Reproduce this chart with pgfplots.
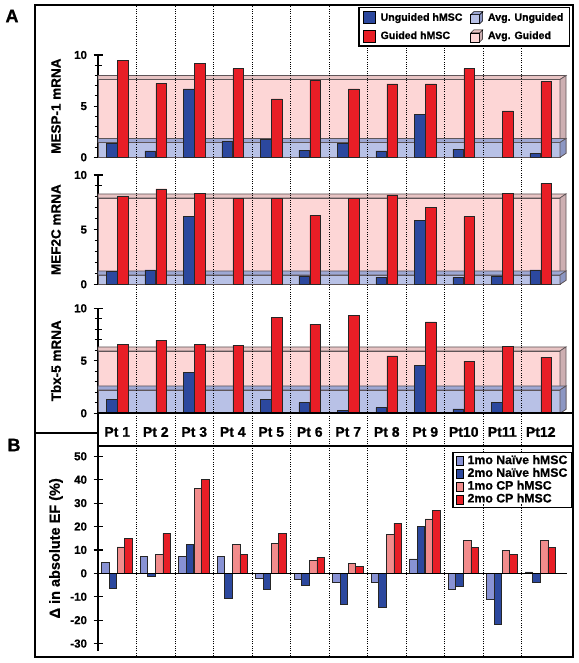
\documentclass[border=0pt]{standalone}
\usepackage{pgfplots}
\pgfplotsset{compat=1.18}
\usepackage{fontspec}
\setmainfont{Liberation Sans}[BoldFeatures={FakeBold=0.8}]
\definecolor{ublue}{RGB}{44,72,158}
\definecolor{gred}{RGB}{232,30,38}
\definecolor{bpink}{RGB}{253,214,214}
\definecolor{bpinktop}{RGB}{232,196,196}
\definecolor{bpinkside}{RGB}{205,175,178}
\definecolor{bblue}{RGB}{184,193,230}
\definecolor{bbluetop}{RGB}{158,168,212}
\definecolor{bblueside}{RGB}{140,150,195}
\definecolor{bedge}{RGB}{95,85,88}
\definecolor{lblue}{RGB}{136,146,212}
\definecolor{lred}{RGB}{242,140,140}
\newcommand{\fs}[1]{\fontsize{#1}{#1}\selectfont}
\pgfplotsset{
  panel/.style={
    scale only axis, width=462pt, xmin=-0.5, xmax=11.5,
    anchor=south west, clip=false,
    axis x line=none, axis y line*=left,
    y axis line style={-, line width=1.3pt, black},
    tick align=center,
    major tick length=9pt, minor tick length=7pt,
    major tick style={line width=1.2pt, black},
    minor tick style={line width=1.1pt, black},
    /pgf/number format/assume math mode=true,
    yticklabel style={font=\bfseries\fs{11.5}, xshift=-3pt},
    ylabel style={font=\bfseries\fs{13.5}, at={(axis description cs:-0.0909,0.5)}, anchor=center},
  },
  mybar/.style={forget plot, ybar, bar width=#1, draw=black!85, line width=0.5pt},
  band/.style={forget plot, draw=bedge, line width=0.7pt},
  sqleg/.style={legend image code/.code={\draw[fill=#1, draw=black, line width=0.5pt] (0pt,-6pt) rectangle (12pt,6pt);}},
  sqlegB/.style={legend image code/.code={\draw[fill=#1, draw=black, line width=0.5pt] (0pt,-4.5pt) rectangle (7pt,4.5pt);}},
}
\begin{document}
\begin{tikzpicture}[x=1pt,y=1pt]
\useasboundingbox (0,0) rectangle (578,663);

% ---------------- MESP-1 ----------------
\begin{axis}[panel, at={(98pt,505.7pt)}, height=102.3pt, ymin=0, ymax=10,
  ytick={0,5,10}, minor ytick={1,2,3,4,6,7,8,9}, ylabel={MESP-1 mRNA},
  legend columns=2, legend cell align=left,
  legend style={at={(axis description cs:1.0216,1.4692)}, anchor=north east,
    draw=black, line width=1.3pt, fill=white, font=\bfseries\fs{10.6},
    nodes={font=\bfseries\fs{10.6}, inner sep=2pt},
    /tikz/every odd column/.append style={column sep=3pt},
    /tikz/every even column/.append style={column sep=6pt}, row sep=5pt,
    inner xsep=4pt, inner ysep=3.5pt}]
\addplot[band, fill=bpink] coordinates {(-0.5,0) (11.5,0) (11.5,7.6) (-0.5,7.6)} -- cycle;
\addplot[band, fill=bpinktop] coordinates {(-0.5,7.6) (11.5,7.6) (11.656,7.99) (-0.5,7.99)} -- cycle;
\addplot[band, fill=bpinkside] coordinates {(11.5,0) (11.656,0.39) (11.656,7.99) (11.5,7.6)} -- cycle;
\addplot[band, fill=bblue] coordinates {(-0.5,0) (11.5,0) (11.5,1.45) (-0.5,1.45)} -- cycle;
\addplot[band, fill=bbluetop] coordinates {(-0.5,1.45) (11.5,1.45) (11.656,1.84) (-0.5,1.84)} -- cycle;
\addplot[band, fill=bblueside] coordinates {(11.5,0) (11.656,0.39) (11.656,1.84) (11.5,1.45)} -- cycle;
\addplot[mybar=10.6pt, bar shift=-5.5pt, fill=ublue] coordinates {
 (0,1.37) (1,0.62) (2,6.68) (3,1.53) (4,1.76) (5,0.71) (6,1.33) (7,0.62) (8,4.23) (9,0.81) (11,0.39)};
\addplot[mybar=10.6pt, bar shift=5.5pt, fill=gred] coordinates {
 (0,9.44) (1,7.23) (2,9.19) (3,8.66) (4,5.70) (5,7.56) (6,6.68) (7,7.17) (8,7.17) (9,8.66) (10,4.53) (11,7.39)};
\addlegendimage{sqleg=ublue}
\addlegendentry{Unguided hMSC}
\addlegendimage{legend image code/.code={
  \draw[fill=bblue, draw=black, line width=0.5pt] (0pt,-6pt) rectangle (9pt,3pt);
  \draw[fill=bbluetop, draw=black, line width=0.5pt] (0pt,3pt) -- (3pt,6pt) -- (12pt,6pt) -- (9pt,3pt) -- cycle;
  \draw[fill=bblueside, draw=black, line width=0.5pt] (9pt,-6pt) -- (12pt,-3pt) -- (12pt,6pt) -- (9pt,3pt) -- cycle;}}
\addlegendentry{Avg. Unguided}
\addlegendimage{sqleg=gred}
\addlegendentry{Guided hMSC}
\addlegendimage{legend image code/.code={
  \draw[fill=bpink, draw=black, line width=0.5pt] (0pt,-6pt) rectangle (9pt,3pt);
  \draw[fill=bpinktop, draw=black, line width=0.5pt] (0pt,3pt) -- (3pt,6pt) -- (12pt,6pt) -- (9pt,3pt) -- cycle;
  \draw[fill=bpinkside, draw=black, line width=0.5pt] (9pt,-6pt) -- (12pt,-3pt) -- (12pt,6pt) -- (9pt,3pt) -- cycle;}}
\addlegendentry{Avg. Guided}
\end{axis}

% ---------------- MEF2C ----------------
\begin{axis}[panel, at={(98pt,378.7pt)}, height=109.3pt, ymin=0, ymax=10,
  ytick={0,5,10}, minor ytick={1,2,3,4,6,7,8,9}, ylabel={MEF2C mRNA}]
\addplot[band, fill=bpink] coordinates {(-0.5,0) (11.5,0) (11.5,7.9) (-0.5,7.9)} -- cycle;
\addplot[band, fill=bpinktop] coordinates {(-0.5,7.9) (11.5,7.9) (11.656,8.27) (-0.5,8.27)} -- cycle;
\addplot[band, fill=bpinkside] coordinates {(11.5,0) (11.656,0.37) (11.656,8.27) (11.5,7.9)} -- cycle;
\addplot[band, fill=bblue] coordinates {(-0.5,0) (11.5,0) (11.5,0.85) (-0.5,0.85)} -- cycle;
\addplot[band, fill=bbluetop] coordinates {(-0.5,0.85) (11.5,0.85) (11.656,1.22) (-0.5,1.22)} -- cycle;
\addplot[band, fill=bblueside] coordinates {(11.5,0) (11.656,0.37) (11.656,1.22) (11.5,0.85)} -- cycle;
\addplot[mybar=10.6pt, bar shift=-5.5pt, fill=ublue] coordinates {
 (0,1.15) (1,1.31) (2,6.18) (5,0.76) (7,0.64) (8,5.82) (9,0.64) (10,0.76) (11,1.31)};
\addplot[mybar=10.6pt, bar shift=5.5pt, fill=gred] coordinates {
 (0,8.01) (1,8.72) (2,8.33) (3,7.87) (4,7.87) (5,6.31) (6,7.87) (7,8.17) (8,7.04) (9,6.18) (10,8.33) (11,9.24)};
\end{axis}

% ---------------- Tbx-5 ----------------
\begin{axis}[panel, at={(98pt,249.7pt)}, height=105pt, ymin=0, ymax=10,
  ytick={0,5,10}, minor ytick={1,2,3,4,6,7,8,9}, ylabel={Tbx-5 mRNA}]
\addplot[band, fill=bpink] coordinates {(-0.5,0) (11.5,0) (11.5,5.94) (-0.5,5.94)} -- cycle;
\addplot[band, fill=bpinktop] coordinates {(-0.5,5.94) (11.5,5.94) (11.656,6.32) (-0.5,6.32)} -- cycle;
\addplot[band, fill=bpinkside] coordinates {(11.5,0) (11.656,0.38) (11.656,6.32) (11.5,5.94)} -- cycle;
\addplot[band, fill=bblue] coordinates {(-0.5,0) (11.5,0) (11.5,2.22) (-0.5,2.22)} -- cycle;
\addplot[band, fill=bbluetop] coordinates {(-0.5,2.22) (11.5,2.22) (11.656,2.6) (-0.5,2.6)} -- cycle;
\addplot[band, fill=bblueside] coordinates {(11.5,0) (11.656,0.38) (11.656,2.6) (11.5,2.22)} -- cycle;
\addplot[mybar=10.6pt, bar shift=-5.5pt, fill=ublue] coordinates {
 (0,1.36) (1,0.08) (2,3.87) (3,0.08) (4,1.33) (5,1.01) (6,0.31) (7,0.53) (8,4.57) (9,0.41) (10,1.01)};
\addplot[mybar=10.6pt, bar shift=5.5pt, fill=gred] coordinates {
 (0,6.57) (1,6.98) (2,6.57) (3,6.48) (4,9.10) (5,8.50) (6,9.36) (7,5.46) (8,8.70) (9,4.98) (10,6.38) (11,5.36)};
\node[font=\bfseries\fs{14}] at (axis cs:0,-1.78) {Pt 1};
\node[font=\bfseries\fs{14}] at (axis cs:1,-1.78) {Pt 2};
\node[font=\bfseries\fs{14}] at (axis cs:2,-1.78) {Pt 3};
\node[font=\bfseries\fs{14}] at (axis cs:3,-1.78) {Pt 4};
\node[font=\bfseries\fs{14}] at (axis cs:4,-1.78) {Pt 5};
\node[font=\bfseries\fs{14}] at (axis cs:5,-1.78) {Pt 6};
\node[font=\bfseries\fs{14}] at (axis cs:6,-1.78) {Pt 7};
\node[font=\bfseries\fs{14}] at (axis cs:7,-1.78) {Pt 8};
\node[font=\bfseries\fs{14}] at (axis cs:8,-1.78) {Pt 9};
\node[font=\bfseries\fs{14}] at (axis cs:9,-1.78) {Pt10};
\node[font=\bfseries\fs{14}] at (axis cs:10,-1.78) {Pt11};
\node[font=\bfseries\fs{14}] at (axis cs:11,-1.78) {Pt12};
\end{axis}

% ---------------- Panel B ----------------
\begin{axis}[panel, at={(98pt,12.4pt)}, height=204.6pt, ymin=-33, ymax=54.4,
  ytick={-30,-20,...,50}, minor ytick={}, ylabel={Δ in absolute EF (\%)},
  ylabel style={font=\bfseries\fs{14.5}},
  legend cell align=left,
  legend style={at={(axis description cs:1.026,0.9707)}, anchor=north east,
    draw=black, line width=1.3pt, fill=white, font=\bfseries\fs{12.3},
    nodes={font=\bfseries\fs{12.3}, inner sep=1pt},
    /tikz/every even column/.append style={nodes={text height=8.4pt, text depth=2.4pt}},
    /tikz/every odd column/.append style={column sep=3pt},
    row sep=0pt, inner xsep=3pt, inner ysep=2pt}]
\addplot[mybar=7.4pt, bar shift=-11.9pt, fill=lblue] coordinates {
 (0,4.6) (1,7.4) (2,7.4) (3,7.4) (4,-2.3) (5,-2.6) (6,-3.6) (7,-3.6) (8,6.2) (9,-6.6) (10,-11.1) (11,0.6)};
\addplot[mybar=7.4pt, bar shift=-4.5pt, fill=ublue] coordinates {
 (0,-6.4) (1,-1.4) (2,12.4) (3,-10.8) (4,-6.6) (5,-5.1) (6,-13.2) (7,-14.3) (8,20.2) (9,-5.6) (10,-21.8) (11,-4.0)};
\addplot[mybar=7.4pt, bar shift=3.5pt, fill=lred] coordinates {
 (0,11.3) (1,8.1) (2,36.3) (3,12.4) (4,12.8) (5,5.6) (6,4.1) (7,16.8) (8,23.3) (9,14.2) (10,9.7) (11,14.2)};
\addplot[mybar=7.4pt, bar shift=10.9pt, fill=gred] coordinates {
 (0,14.8) (1,17.1) (2,40.2) (3,8.0) (4,17.1) (5,6.8) (6,3.0) (7,21.4) (8,27.0) (9,11.2) (10,8.1) (11,11.2)};
\addplot[forget plot, line width=1.5pt, black] coordinates {(-0.5,0) (11.68,0)};
\addlegendimage{sqlegB=lblue}
\addlegendentry{1mo Naïve hMSC}
\addlegendimage{sqlegB=ublue}
\addlegendentry{2mo Naïve hMSC}
\addlegendimage{sqlegB=lred}
\addlegendentry{1mo CP hMSC}
\addlegendimage{sqlegB=gred}
\addlegendentry{2mo CP hMSC}
\end{axis}

% ---------------- dotted separators ----------------
\tikzset{dots/.style={line width=1pt, dash pattern=on 1pt off 1.3pt}}
\foreach \k in {1,...,6} { \draw[dots] ({98+38.5*\k},7) -- ({98+38.5*\k},658); }
\foreach \k in {7,8,9} { \draw[dots] ({98+38.5*\k},7) -- ({98+38.5*\k},617); }
\foreach \k in {10,11} { \draw[dots] ({98+38.5*\k},7) -- ({98+38.5*\k},159);
  \draw[dots] ({98+38.5*\k},211) -- ({98+38.5*\k},617); }

% ---------------- frames ----------------
\draw[line width=1.6pt] (35,6) rectangle (573,658);
\draw[line width=1.6pt] (98,217) rectangle (573,249.7);
\draw[line width=1.6pt] (35,230) -- (98,230);
\node[font=\bfseries\fs{18}] at (12,647) {A};
\node[font=\bfseries\fs{18}] at (14,218) {B};
\end{tikzpicture}
\end{document}
